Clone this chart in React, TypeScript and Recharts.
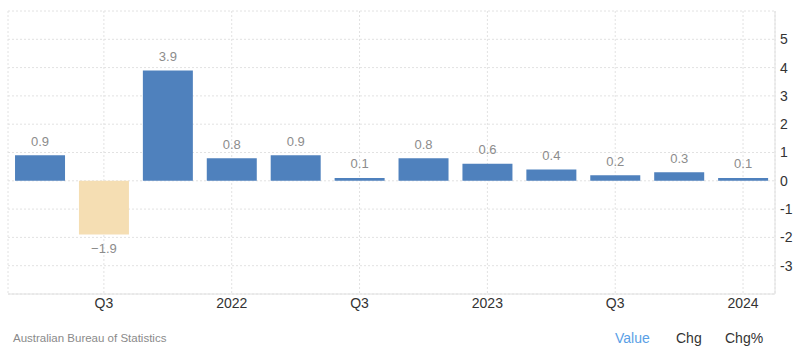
import React from "react";
import { BarChart, Bar, XAxis, YAxis, CartesianGrid, Cell, LabelList } from "recharts";

const categories = ["2021Q2", "2021Q3", "2021Q4", "2022Q1", "2022Q2", "2022Q3", "2022Q4", "2023Q1", "2023Q2", "2023Q3", "2023Q4", "2024Q1"];
const values = [0.9, -1.9, 3.9, 0.8, 0.9, 0.1, 0.8, 0.6, 0.4, 0.2, 0.3, 0.1];
const xTicks = ["2021Q3", "2022Q1", "2022Q3", "2023Q1", "2023Q3", "2024Q1"];
const xTickLabels: Record<string, string> = {
  "2021Q3": "Q3",
  "2022Q1": "2022",
  "2022Q3": "Q3",
  "2023Q1": "2023",
  "2023Q3": "Q3",
  "2024Q1": "2024",
};
const yTicks = [-3, -2, -1, 0, 1, 2, 3, 4, 5];

const data = categories.map((c, i) => ({ cat: c, value: values[i] }));

const FONT = '"Liberation Sans", Arial, sans-serif';

const ValueLabel = (props: any) => {
  const { x, y, width, height, value } = props;
  const top = Math.min(y, y + height);
  const bottom = Math.max(y, y + height);
  const cx = x + width / 2;
  const ly = value >= 0 ? top - 14 : bottom + 14;
  return (
    <text x={cx} y={ly} textAnchor="middle" dominantBaseline="central" fill="#8c8c8c" fontSize={13} fontFamily={FONT}>
      {value < 0 ? "\u2212" + Math.abs(value).toFixed(1) : value.toFixed(1)}
    </text>
  );
};

export default function App() {
  return (
    <div style={{ position: "absolute", left: 0, top: 0, width: 800, height: 353, background: "#fff", fontFamily: FONT }}>
      <BarChart
        width={800}
        height={353}
        data={data}
        margin={{ top: 11, right: 0, left: 8, bottom: 29 }}
        barCategoryGap="11%"
      >
        <CartesianGrid stroke="#e2e2e2" strokeDasharray="2 2" />
        <XAxis
          dataKey="cat"
          ticks={xTicks}
          tickFormatter={(v: string) => xTickLabels[v] ?? ""}
          height={30}
          axisLine={{ stroke: "#e0e0e0" }}
          tickLine={false}
          tickSize={1}
          tickMargin={3}
          tick={{ fill: "#333", fontSize: 14, fontFamily: FONT }}
        />
        <YAxis
          orientation="right"
          domain={[-4, 6]}
          ticks={yTicks}
          width={25}
          axisLine={{ stroke: "#e0e0e0" }}
          tickLine={false}
          tickSize={3}
          tickMargin={2}
          tick={{ fill: "#333", fontSize: 14, fontFamily: FONT, textAnchor: "start" }}
          interval={0}
        />
        <Bar dataKey="value" isAnimationActive={false}>
          {data.map((d, i) => (
            <Cell key={i} fill={d.value < 0 ? "#f5deb3" : "#4f81bd"} />
          ))}
          <LabelList dataKey="value" content={ValueLabel} />
        </Bar>
      </BarChart>
      <div style={{ position: "absolute", left: 13, top: 330, fontSize: 11.5, color: "#8a8a8a", lineHeight: "16px" }}>
        Australian Bureau of Statistics
      </div>
      <div style={{ position: "absolute", left: 615, top: 329, fontSize: 14, color: "#5aa0e6", lineHeight: "18px" }}>Value</div>
      <div style={{ position: "absolute", left: 676, top: 329, fontSize: 14, color: "#333", lineHeight: "18px" }}>Chg</div>
      <div style={{ position: "absolute", left: 725, top: 329, fontSize: 14, color: "#333", lineHeight: "18px" }}>Chg%</div>
    </div>
  );
}
